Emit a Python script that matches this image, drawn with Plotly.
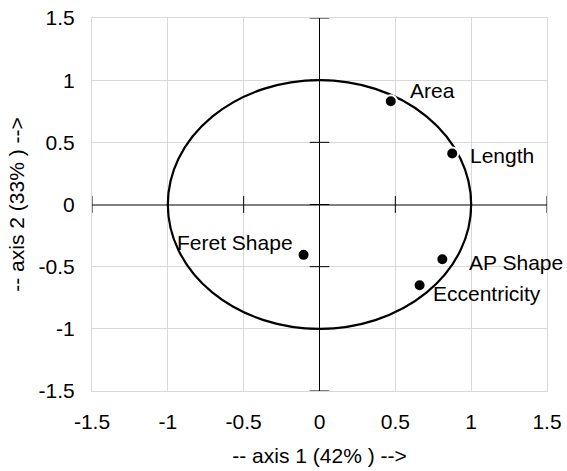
import plotly.graph_objects as go

# Data
variables = ["Area", "Length", "AP Shape", "Eccentricity", "Feret Shape"]
axis1 = [0.47, 0.875, 0.81, 0.66, -0.105]
axis2 = [0.83, 0.41, -0.44, -0.65, -0.405]
tick_vals = [-1.5, -1, -0.5, 0, 0.5, 1, 1.5]
tick_text = ["-1.5", "-1", "-0.5", "0", "0.5", "1", "1.5"]
x_title = "-- axis 1 (42% ) -->"
y_title = "-- axis 2 (33% ) -->"

# label placement styles (pixel offsets)
label_style = {
    "Area": dict(xanchor="left", xshift=17, yshift=11),
    "Length": dict(xanchor="left", xshift=16, yshift=-2),
    "AP Shape": dict(xanchor="left", xshift=25, yshift=-3),
    "Eccentricity": dict(xanchor="left", xshift=11, yshift=-8),
    "Feret Shape": dict(xanchor="right", xshift=-9, yshift=12),
}

FONT = "Liberation Sans, Arial, sans-serif"
FS = 21

fig = go.Figure()

# tick marks on the zero axes
fig.add_trace(go.Scatter(
    x=[0] * len(tick_vals), y=tick_vals, mode="markers",
    marker=dict(symbol="line-ew", size=14, line=dict(color="black", width=1)),
    hoverinfo="skip", showlegend=False, cliponaxis=False))
fig.add_trace(go.Scatter(
    x=tick_vals, y=[0] * len(tick_vals), mode="markers",
    marker=dict(symbol="line-ns", size=12, line=dict(color="black", width=1)),
    hoverinfo="skip", showlegend=False, cliponaxis=False))

# variable points
fig.add_trace(go.Scatter(
    x=axis1, y=axis2, mode="markers",
    marker=dict(color="black", size=12, line=dict(color="white", width=2)),
    showlegend=False, cliponaxis=False))

for name, xv, yv in zip(variables, axis1, axis2):
    st = label_style[name]
    fig.add_annotation(x=xv, y=yv, text=name, showarrow=False,
                       yanchor="middle", font=dict(family=FONT, size=FS, color="black"),
                       **st)

# correlation circle
fig.add_shape(type="circle", xref="x", yref="y", x0=-1, y0=-1, x1=1, y1=1,
              line=dict(color="black", width=2.2), layer="between")

axis_common = dict(
    range=[-1.5, 1.5], tickmode="array", tickvals=tick_vals, ticktext=tick_text,
    showgrid=True, gridcolor="#d9d9d9", gridwidth=1,
    showline=True, linecolor="#d9d9d9", linewidth=1, mirror=True,
    ticks="", tickfont=dict(family=FONT, size=FS, color="black"),
    title_font=dict(family=FONT, size=FS, color="black"),
    fixedrange=True,
)

fig.update_layout(
    width=567, height=471,
    margin=dict(l=92, r=20, t=18, b=80, autoexpand=False),
    paper_bgcolor="white", plot_bgcolor="white",
    hovermode=False,
    xaxis=dict(**axis_common, zeroline=True, zerolinecolor="black", zerolinewidth=1,
               title=dict(text=x_title, standoff=16), ticklabelstandoff=12),
    yaxis=dict(**axis_common, zeroline=True, zerolinecolor="#808080", zerolinewidth=2,
               title=dict(text=y_title, standoff=8), ticklabelstandoff=12),
    font=dict(family=FONT, size=FS, color="black"),
)

fig.write_html(
    "out.html",
    config={"displayModeBar": False, "staticPlot": True},
    post_script="document.body.style.margin='0';document.body.style.overflow='hidden';",
)
